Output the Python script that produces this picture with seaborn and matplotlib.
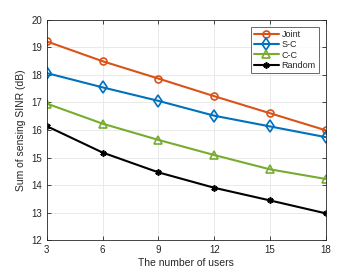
import matplotlib

matplotlib.use("Agg")
import matplotlib.pyplot as plt
import pandas as pd
import seaborn as sns

users = [3, 6, 9, 12, 15, 18]
joint = [19.22, 18.50, 17.87, 17.23, 16.61, 15.99]
s_c = [18.07, 17.55, 17.06, 16.52, 16.13, 15.74]
c_c = [16.96, 16.23, 15.64, 15.09, 14.57, 14.22]
random_sel = [16.14, 15.18, 14.46, 13.90, 13.44, 12.97]

series_names = ["Joint", "S-C", "C-C", "Random"]
series_values = [joint, s_c, c_c, random_sel]
colors = {"Joint": "#D95319", "S-C": "#0072BD", "C-C": "#77AC30", "Random": "#000000"}
markers = {"Joint": "o", "S-C": "d", "C-C": "^", "Random": (6, 2, 0)}
marker_sizes = {"Joint": 5, "S-C": 6, "C-C": 5.5, "Random": 4.5}

sns.set_theme(style="ticks")
plt.rcParams["font.family"] = ["Liberation Sans", "DejaVu Sans"]

fig = plt.figure(figsize=(3.6, 2.7), dpi=100)
ax = fig.add_axes([0.13, 0.111, 0.775, 0.815])

for name, values in zip(series_names, series_values):
    frame = pd.DataFrame({"users": users, "sinr": values})
    sns.lineplot(
        data=frame, x="users", y="sinr", label=name,
        color=colors[name], marker=markers[name],
        linewidth=1.5, markersize=marker_sizes[name],
        markerfacecolor="none", markeredgecolor=colors[name], markeredgewidth=1.2,
        ax=ax,
    )

ax.set_xlim(3, 18)
ax.set_ylim(12, 20)
ax.set_xticks(users)
ax.set_yticks(range(12, 21))
ax.grid(True, color="#e6e6e6", linewidth=0.6)
ax.tick_params(direction="in", top=True, right=True, labelsize=7, length=3, width=0.6, colors="#262626")
for spine in ax.spines.values():
    spine.set_visible(True)
    spine.set_color("#262626")
    spine.set_linewidth(0.6)
ax.set_xlabel("The number of users", fontsize=7.5, color="#262626", labelpad=2)
ax.set_ylabel("Sum of sensing SINR (dB)", fontsize=7.5, color="#262626", labelpad=4)

legend = ax.legend(loc="upper right", fontsize=6.5, frameon=True, fancybox=False,
                   edgecolor="#262626", borderpad=0.3, labelspacing=0.15,
                   handlelength=2.8, handletextpad=0.3, borderaxespad=0.8)
legend.get_frame().set_linewidth(0.6)

fig.savefig("out.png", dpi=100)
